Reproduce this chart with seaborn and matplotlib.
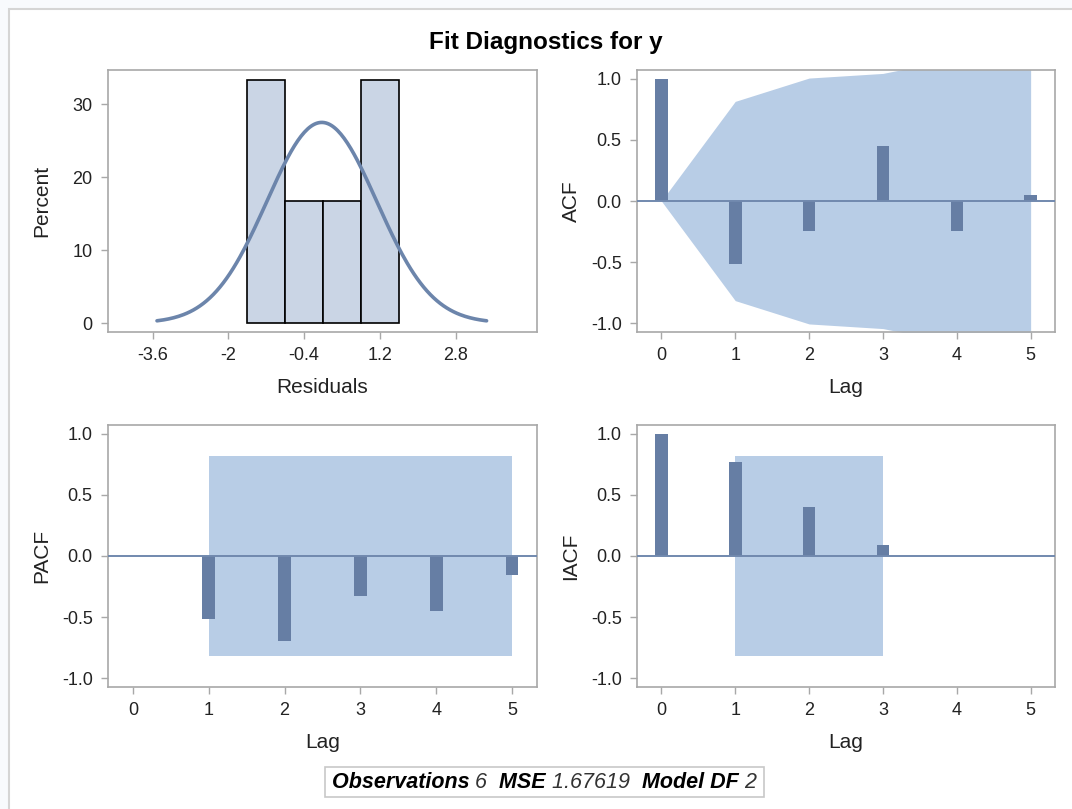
import numpy as np
import pandas as pd
import matplotlib.pyplot as plt
import matplotlib.patches as mpatches
import seaborn as sns

# Dados
residuos = [-1.45, -1.10, -0.40, 0.30, 1.10, 1.40]
bin_edges = [-1.6, -0.8, 0.0, 0.8, 1.6]

acf_lags = [0, 1, 2, 3, 4, 5]
acf_vals = [1.0, -0.514, -0.242, 0.449, -0.242, 0.049]
acf_band = [0.0, 0.816, 1.007, 1.045, 1.166, 1.20]

pacf_lags = [1, 2, 3, 4, 5]
pacf_vals = [-0.517, -0.697, -0.327, -0.452, -0.158]
pacf_band = [0.816, 0.816, 0.816, 0.816, 0.816]

iacf_lags = [0, 1, 2, 3]
iacf_vals = [1.0, 0.767, 0.405, 0.093]
iacf_band_lags = [1, 2, 3]
iacf_band = [0.816, 0.816, 0.816]

n_obs = 6
mse = 1.67619
model_df = 2

sns.set_theme(style="white")
plt.rcParams['font.family'] = ['Liberation Sans', 'DejaVu Sans']

bar_cor = '#667EA4'
band_cor = '#B8CDE6'
linha_cor = '#7189AE'
frame_cor = '#A8A8A8'

W, H = 1072, 809
fig = plt.figure(figsize=(10.72, 8.09), dpi=100)
fig.patch.set_facecolor('#F8FAFD')
fig.patches.append(mpatches.Rectangle((9 / W, -0.2), 1.5, 1.2 - 9 / H, transform=fig.transFigure,
                                      facecolor='white', edgecolor='#D5D5D5', linewidth=1.5, zorder=-10))


def eixo(x0, y0, x1, y1):
    return fig.add_axes([x0 / W, 1 - y1 / H, (x1 - x0) / W, (y1 - y0) / H])


ax_hist = eixo(108, 70, 537, 332)
ax_acf = eixo(637, 70, 1055, 332)
ax_pacf = eixo(108, 425, 537, 687)
ax_iacf = eixo(637, 425, 1055, 687)


def estilo(ax, xlabel, ylabel):
    for s in ax.spines.values():
        s.set_color(frame_cor)
        s.set_linewidth(1.2)
    ax.tick_params(axis='both', which='major', direction='out', length=5, width=1, pad=6,
                   color=frame_cor, labelsize=13, labelcolor='#222222', bottom=True, left=True)
    ax.set_xlabel(xlabel, fontsize=15, color='#222222')
    ax.set_ylabel(ylabel, fontsize=15, color='#222222')
    ax.xaxis.label.set(va='center')
    ax.xaxis.set_label_coords(0.5, -56 / 262)
    ax.yaxis.label.set(rotation_mode='default', ha='center', va='center')
    ax.yaxis.set_label_coords(-66 / ax.bbox.width, 0.5)
    ax.grid(False)


# Histograma dos residuos
sns.histplot(x=residuos, bins=bin_edges, stat='percent', ax=ax_hist, color='#CAD5E5',
             edgecolor='black', linewidth=1.2, alpha=1)
mu = np.mean(residuos)
sd = np.std(residuos, ddof=1)
xs = np.linspace(mu - 3 * sd, mu + 3 * sd, 200)
ys = 100 * 0.8 * np.exp(-0.5 * ((xs - mu) / sd) ** 2) / (sd * np.sqrt(2 * np.pi))
sns.lineplot(x=xs, y=ys, ax=ax_hist, color='#6C85AB', linewidth=2.6)
ax_hist.set_xlim(-4.54, 4.52)
ax_hist.set_ylim(-1.23, 34.7)
ax_hist.set_xticks([-3.6, -2, -0.4, 1.2, 2.8])
ax_hist.set_xticklabels(['-3.6', '-2', '-0.4', '1.2', '2.8'])
ax_hist.set_yticks([0, 10, 20, 30])
estilo(ax_hist, 'Residuals', 'Percent')


def painel(ax, lags, vals, band_x, band, ylabel):
    ax.fill_between(band_x, [-b for b in band], band, color=band_cor, linewidth=0, zorder=1)
    df = pd.DataFrame({'lag': lags, 'val': vals})
    sns.barplot(data=df, x='lag', y='val', native_scale=True, width=0.17, color=bar_cor,
                saturation=1, linewidth=0, ax=ax, zorder=3)
    ax.axhline(0, color=linha_cor, linewidth=1.4, zorder=4)
    ax.set_xlim(-0.33, 5.33)
    ax.set_ylim(-1.073, 1.073)
    ax.set_xticks([0, 1, 2, 3, 4, 5])
    ax.set_xticklabels(['0', '1', '2', '3', '4', '5'])
    ax.set_yticks([-1.0, -0.5, 0.0, 0.5, 1.0])
    ax.set_yticklabels(['-1.0', '-0.5', '0.0', '0.5', '1.0'])
    estilo(ax, 'Lag', ylabel)


painel(ax_acf, acf_lags, acf_vals, acf_lags, acf_band, 'ACF')
painel(ax_pacf, pacf_lags, pacf_vals, pacf_lags, pacf_band, 'PACF')
painel(ax_iacf, iacf_lags, iacf_vals, iacf_band_lags, iacf_band, 'IACF')

fig.text(546 / W, 1 - 42 / H, 'Fit Diagnostics for y', ha='center', va='center',
         fontsize=17.5, fontweight='bold', color='black')

# Rodape
partes = [('Observations ', 'bold'), (f'{n_obs}  ', 'normal'), ('MSE ', 'bold'),
          (f'{mse:.5f}  ', 'normal'), ('Model DF ', 'bold'), (f'{model_df}', 'normal')]
renderer = fig.canvas.get_renderer()
textos = []
for txt, peso in partes:
    t = fig.text(0, 1 - 782 / H, txt, ha='left', va='center', fontsize=15.5, style='italic',
                 fontweight=peso, color='black' if peso == 'bold' else '#333333')
    textos.append(t)
larguras = [t.get_window_extent(renderer).width for t in textos]
total = sum(larguras)
cx = 544
x = cx - total / 2
for t, w in zip(textos, larguras):
    t.set_x(x / W)
    x += w
fig.patches.append(mpatches.Rectangle(((cx - total / 2 - 7) / W, 1 - 797 / H), (total + 14) / W, 30 / H,
                                      transform=fig.transFigure, facecolor='white',
                                      edgecolor='#C8C8C8', linewidth=1.2, zorder=-5))

fig.savefig('out.png', dpi=100, facecolor=fig.get_facecolor())
